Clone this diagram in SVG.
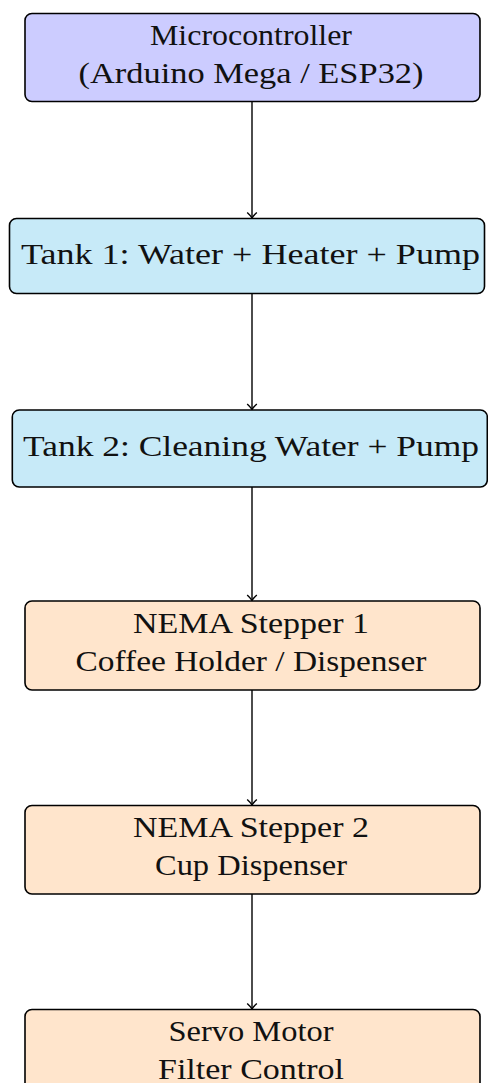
<svg xmlns="http://www.w3.org/2000/svg" width="488" height="1083" viewBox="0 0 488 1083">
  <style>
    .box { stroke: #000; stroke-width: 1.6; }
    .ctrl { fill: #CCCCFF; }
    .tank { fill: #C7EAF8; }
    .motor { fill: #FFE5CC; }
    .lbl { font-family: "Liberation Serif", "Times New Roman", Times, serif; font-size: 30px; fill: #111; text-anchor: middle; }
    .wire { stroke: #000; stroke-width: 1.4; fill: none; }
  </style>
  <defs>
    <marker id="tip" markerUnits="userSpaceOnUse" markerWidth="14" markerHeight="14" refX="7" refY="7" orient="auto">
      <path d="M1.5,2.2 Q4.5,5.5 7,7 Q4.5,8.5 1.5,11.8" fill="none" stroke="#000" stroke-width="1.4"/>
    </marker>
  </defs>

  <rect width="488" height="1083" fill="#fff"/>

  <!-- connectors -->
  <g id="connectors">
    <line class="wire" x1="252" y1="101.5" x2="252" y2="218" marker-end="url(#tip)"/>
    <line class="wire" x1="252" y1="293.5" x2="252" y2="409.5" marker-end="url(#tip)"/>
    <line class="wire" x1="252" y1="487" x2="252" y2="600.5" marker-end="url(#tip)"/>
    <line class="wire" x1="252" y1="690" x2="252" y2="805" marker-end="url(#tip)"/>
    <line class="wire" x1="252" y1="894" x2="252" y2="1009" marker-end="url(#tip)"/>
  </g>

  <!-- controller -->
  <g id="microcontroller">
    <rect class="box ctrl" x="25" y="13.5" width="455" height="88" rx="7"/>
    <text class="lbl" x="251" y="45" textLength="202" lengthAdjust="spacingAndGlyphs">Microcontroller</text>
    <text class="lbl" x="251" y="83" textLength="345" lengthAdjust="spacingAndGlyphs">(Arduino Mega / ESP32)</text>
  </g>

  <!-- tanks -->
  <g id="tank1">
    <rect class="box tank" x="9.5" y="218.5" width="475" height="75" rx="7"/>
    <text class="lbl" x="250.5" y="264" textLength="459" lengthAdjust="spacingAndGlyphs">Tank 1: Water + Heater + Pump</text>
  </g>
  <g id="tank2">
    <rect class="box tank" x="12.3" y="410" width="475" height="77" rx="7"/>
    <text class="lbl" x="251" y="456" textLength="456" lengthAdjust="spacingAndGlyphs">Tank 2: Cleaning Water + Pump</text>
  </g>

  <!-- motors -->
  <g id="stepper1">
    <rect class="box motor" x="25" y="601" width="455" height="89" rx="7"/>
    <text class="lbl" x="251" y="633" textLength="236" lengthAdjust="spacingAndGlyphs">NEMA Stepper 1</text>
    <text class="lbl" x="251" y="671" textLength="351" lengthAdjust="spacingAndGlyphs">Coffee Holder / Dispenser</text>
  </g>
  <g id="stepper2">
    <rect class="box motor" x="25" y="805.5" width="455" height="88.5" rx="7"/>
    <text class="lbl" x="251" y="837" textLength="236" lengthAdjust="spacingAndGlyphs">NEMA Stepper 2</text>
    <text class="lbl" x="251" y="875" textLength="192" lengthAdjust="spacingAndGlyphs">Cup Dispenser</text>
  </g>
  <g id="servo">
    <rect class="box motor" x="25" y="1009.5" width="455" height="88.5" rx="7"/>
    <text class="lbl" x="251" y="1041" textLength="165" lengthAdjust="spacingAndGlyphs">Servo Motor</text>
    <text class="lbl" x="251" y="1079" textLength="186" lengthAdjust="spacingAndGlyphs">Filter Control</text>
  </g>
</svg>
